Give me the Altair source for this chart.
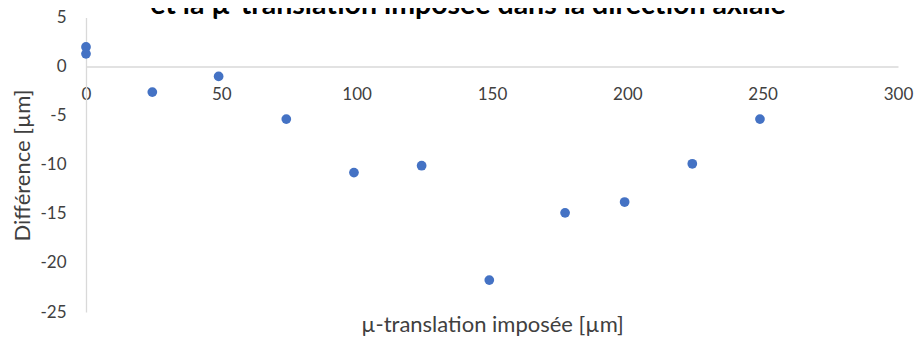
import altair as alt
import pandas as pd

x_vals = [0, 0, 24.5, 49, 74, 99, 124, 149, 177, 199, 224, 249]
y_vals = [2.0, 1.3, -2.6, -1.0, -5.35, -10.8, -10.1, -21.75, -14.9, -13.8, -9.9, -5.35]
x_ticks = [0, 50, 100, 150, 200, 250, 300]
y_ticks = [-25, -20, -15, -10, -5, 0, 5]
title_text = "et la µ-translation imposée dans la direction axiale"
x_title = "µ-translation imposée [µm]"
y_title = "Différence [µm]"

df = pd.DataFrame({"x": x_vals, "y": y_vals})
FONT = "Lato"
TXT = "#404040"

W, H = 812, 294.5
y0_from_top = 49.0
label_expr = "datum.value < 0 ? '-' + abs(datum.value) : '' + datum.value"

points = alt.Chart(df).mark_circle(size=95, color="#4472C4", opacity=1).encode(
    x=alt.X("x:Q", scale=alt.Scale(domain=[0, 300], nice=False, zero=False),
            axis=alt.Axis(values=x_ticks, title=x_title,
                          offset=-(H - y0_from_top), grid=False, ticks=False,
                          domainColor="#d9d9d9", domainWidth=1.3,
                          labelPadding=20, labelFontSize=17, labelColor=TXT,
                          labelFont=FONT, labelFlush=False, labelExpr=label_expr,
                          titleFont=FONT, titleFontSize=22, titleFontWeight="normal",
                          titleColor=TXT, titleY=265, titleBaseline="alphabetic")),
    y=alt.Y("y:Q", scale=alt.Scale(domain=[-25, 5], nice=False, zero=False),
            axis=alt.Axis(values=y_ticks, title=y_title,
                          grid=False, ticks=False, domainColor="#d9d9d9", domainWidth=1.3,
                          labelPadding=20, labelFontSize=17, labelColor=TXT,
                          labelFont=FONT, labelFlush=False, labelExpr=label_expr,
                          titleFont=FONT, titleFontSize=22, titleFontWeight="normal",
                          titleColor=TXT, titleX=-64, titleY=147.5,
                          titleAngle=-90, titleAlign="center", titleBaseline="middle")),
)

title = alt.Chart(pd.DataFrame({"t": [title_text]})).mark_text(
    font=FONT, fontSize=28.5, fontWeight="bold", color="#000000",
    align="center", baseline="alphabetic"
).encode(text="t:N", x=alt.value(382), y=alt.value(-3.5))

chart = alt.layer(points, title).properties(
    width=W, height=H,
    autosize=alt.AutoSizeParams(type="none"),
    padding={"left": 78, "top": 9.5, "right": 16, "bottom": 27},
).configure_view(stroke=None)

chart.save("out.html", embed_options={"renderer": "svg", "actions": False})
